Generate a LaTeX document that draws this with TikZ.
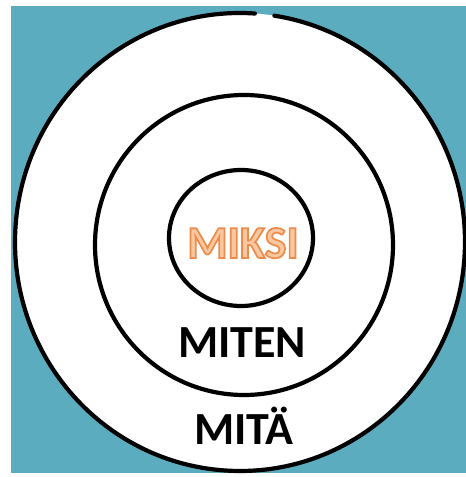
\documentclass[tikz,border=0pt]{standalone}
\usepackage{fontspec}
\setmainfont{Carlito}
\usetikzlibrary{positioning}

\definecolor{bgteal}{RGB}{91,172,190}
\definecolor{miksifill}{RGB}{250,200,160}
% outlined text: orange stroke over the current fill colour
\newcommand{\outlined}[1]{\special{pdf:literal direct 0.925 0.545 0.290 RG 1.7 w 2 Tr}#1\special{pdf:literal direct 0 Tr}}

\tikzset{
  ring/.style={draw=black, line width=4.2pt, line cap=round},
  word/.style={font=\fontsize{46}{46}\selectfont\bfseries, inner sep=0pt, anchor=base}
}

\begin{document}
\begin{tikzpicture}[x=1pt, y=1pt]
    \useasboundingbox (0,0) rectangle (466,477);
    % Background
    \fill[bgteal] (11,4) rectangle (466,471);
    % Outer ring (small break at the top)
    \fill[white] (240,235) ellipse (225 and 229);
    \draw[ring] (240,235) ++(86.2:225 and 229) arc[start angle=86.2, end angle=441.2, x radius=225, y radius=229];
    % Middle and inner rings
    \draw[ring] (244,232) ellipse (149 and 150);
    \draw[ring] (241,239) ellipse (72 and 68);
    % Labels
    \node[word, text=miksifill] (miksi) at (243,219) {\outlined{MIKSI}};
    \node[word] (miten) at (242,119) {MITEN};
    \node[word] (mita) at (244,32) {MITÄ};
\end{tikzpicture}
\end{document}
